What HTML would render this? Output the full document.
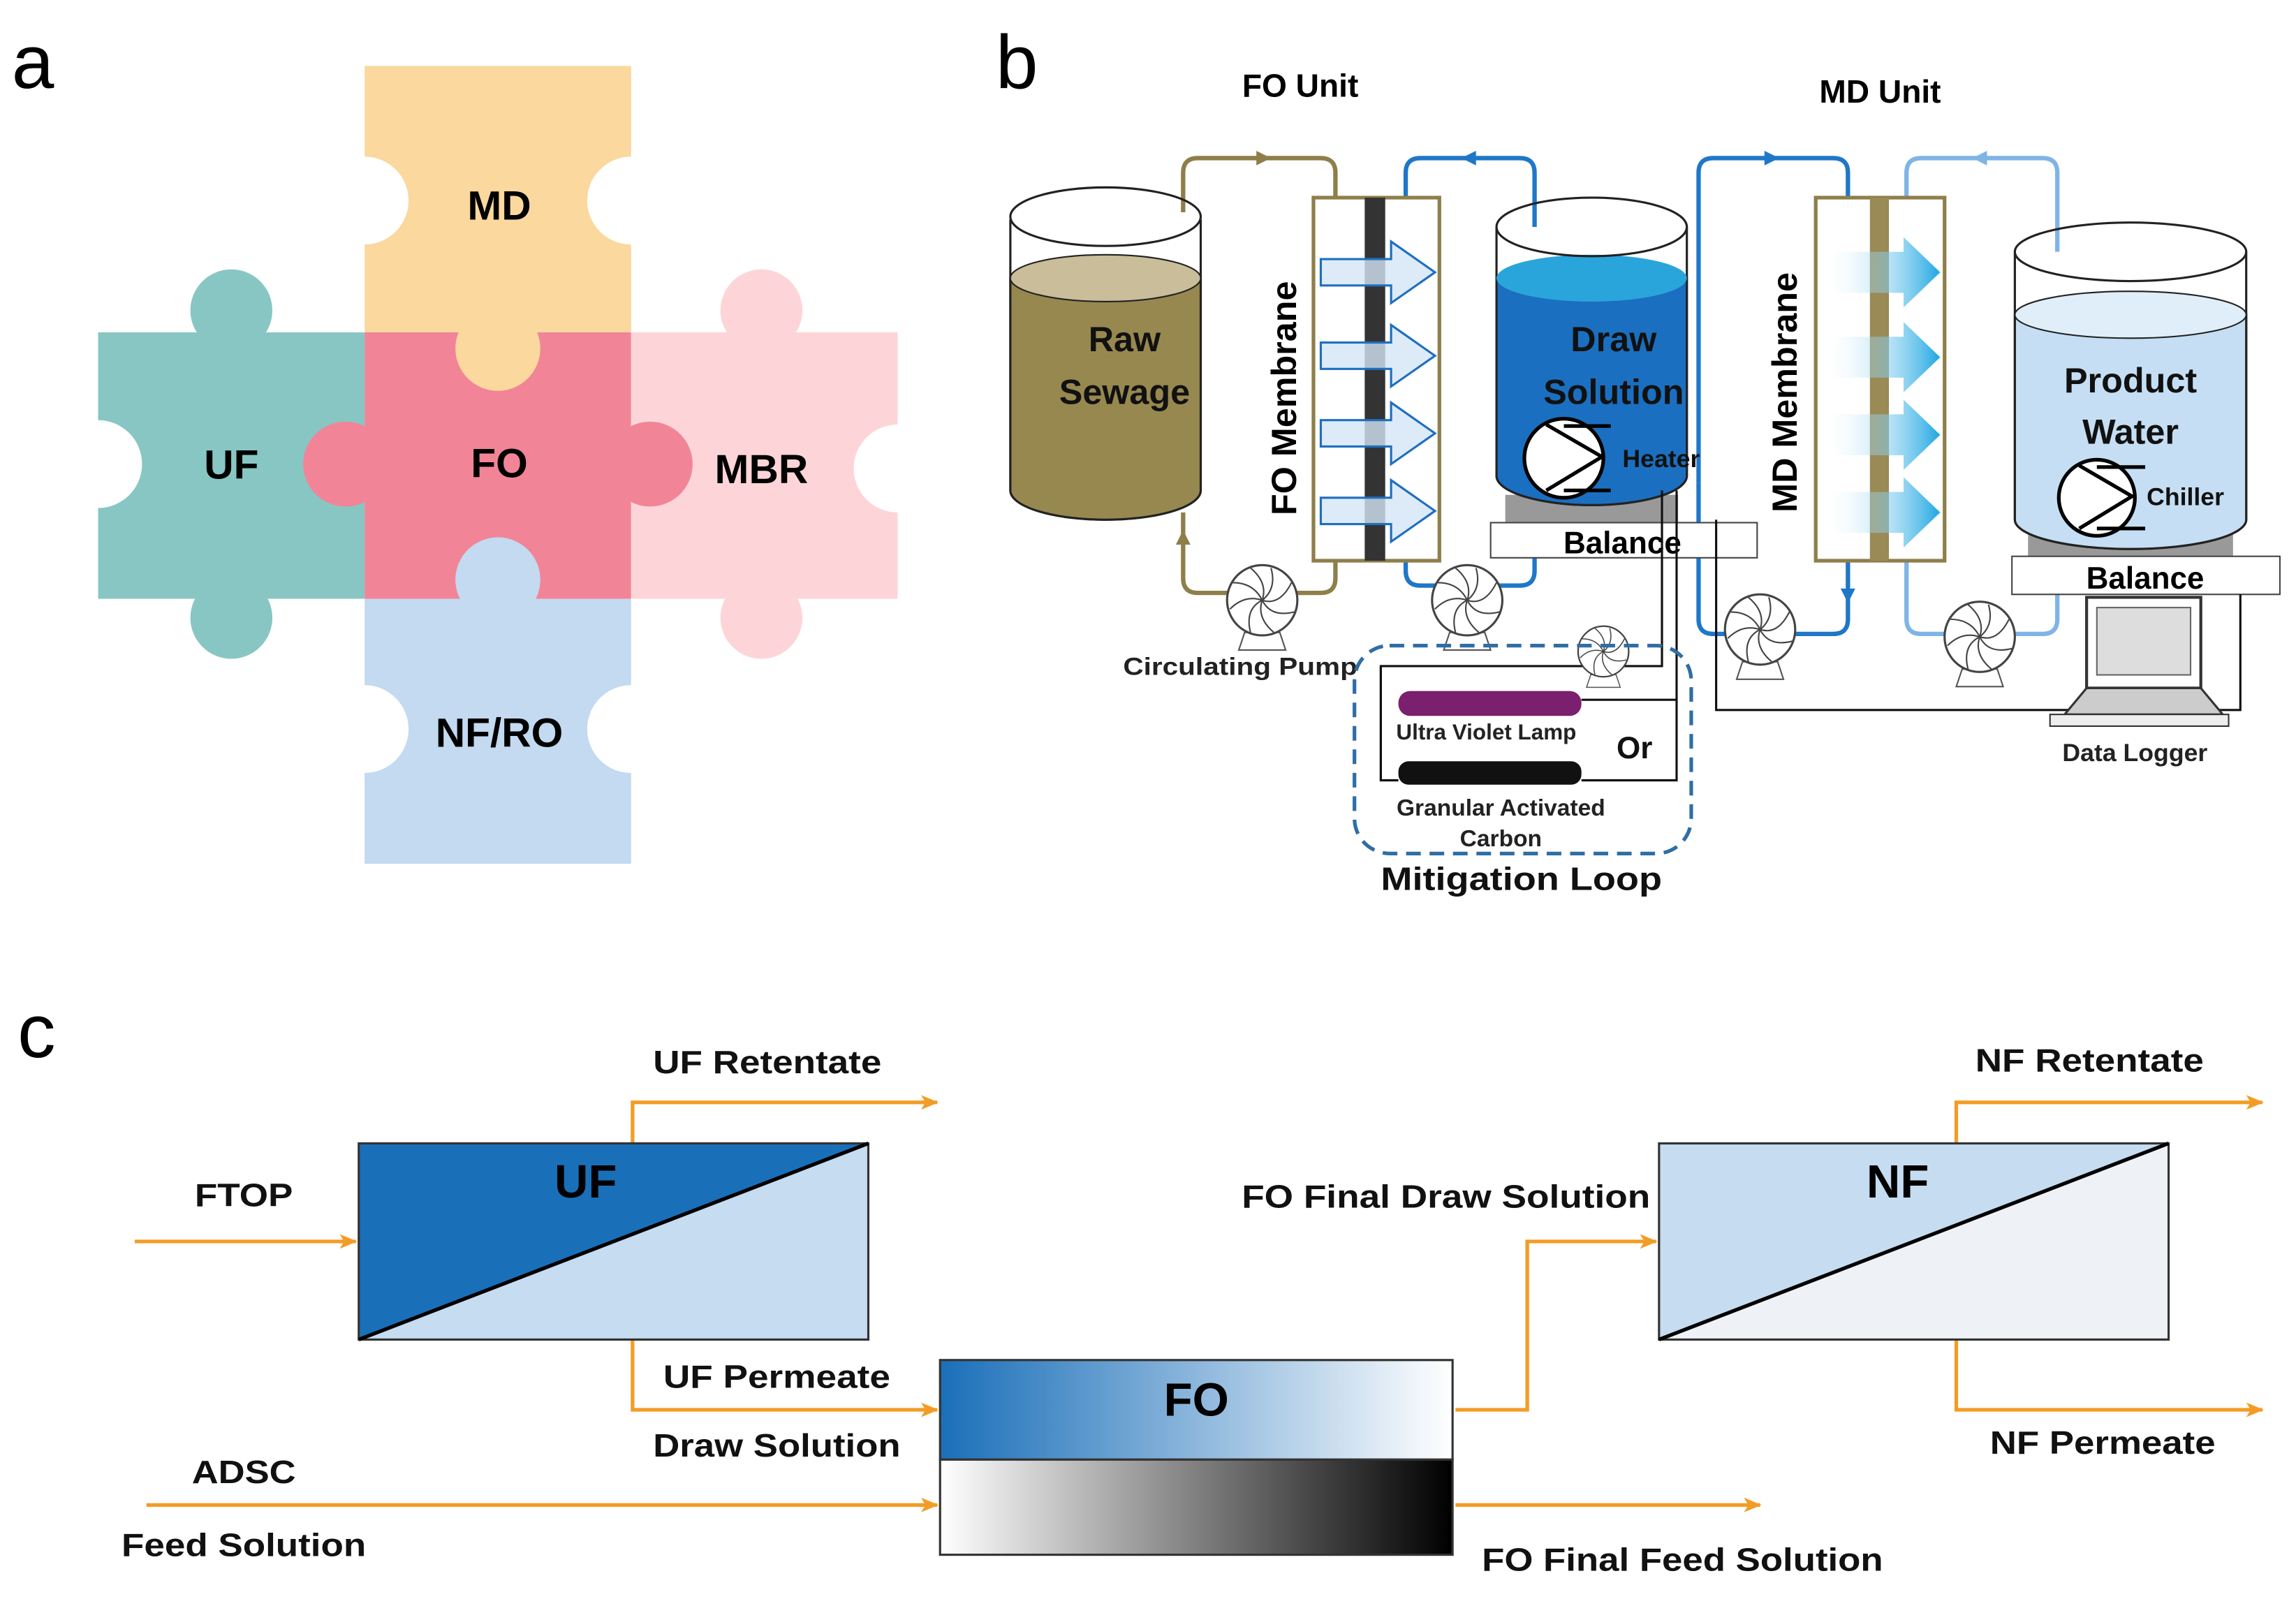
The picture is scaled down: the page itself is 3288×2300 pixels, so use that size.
<!DOCTYPE html>
<html><head><meta charset="utf-8"><style>html,body{margin:0;padding:0;background:#fff}svg{display:block}text{font-family:"Liberation Sans",sans-serif;font-weight:bold}</style></head>
<body>
<svg width="3288" height="2300" viewBox="0 0 1568 1097" preserveAspectRatio="none" xmlns="http://www.w3.org/2000/svg">
<defs>
<marker id="ao" markerWidth="12" markerHeight="10" refX="11" refY="5" orient="auto" markerUnits="userSpaceOnUse"><path d="M0,0 L12,5 L0,10 L3,5z" fill="#f39c25"/></marker>
<linearGradient id="gfo" x1="0" x2="1"><stop offset="0" stop-color="#1a6fb9"/><stop offset="1" stop-color="#fff"/></linearGradient>
<linearGradient id="gff" x1="0" x2="1"><stop offset="0" stop-color="#fff"/><stop offset="1" stop-color="#000"/></linearGradient>
<linearGradient id="gmd" x1="0" x2="1"><stop offset="0" stop-color="#fff" stop-opacity="0"/><stop offset="1" stop-color="#1fa7e2"/></linearGradient>
<g id="fan"><path d="M-12,22 L-16,34 L16,34 L12,22z" fill="#fff" stroke="#555"/><circle r="24" fill="#fff" stroke="#444" stroke-width="1.5"/>
<g fill="none" stroke="#444" stroke-width="1"><path d="M0,0 Q10,-8 6,-22"/><path d="M0,0 Q12,4 20,-12"/><path d="M0,0 Q6,12 22,8"/><path d="M0,0 Q-4,12 8,22"/><path d="M0,0 Q-12,6 -8,22"/><path d="M0,0 Q-12,-4 -22,6"/><path d="M0,0 Q-6,-12 -20,-12"/><path d="M0,0 Q4,-12 -8,-22"/></g></g>
</defs>

<!-- panel a -->
<text x="8" y="60" font-size="52" style="font-weight:normal">a</text>
<rect x="249" y="45" width="182" height="182" fill="#fad89e"/>
<rect x="67" y="227" width="182" height="182" fill="#88c6c3"/>
<rect x="249" y="227" width="182" height="182" fill="#f28497"/>
<rect x="431" y="227" width="182" height="182" fill="#fdd5d8"/>
<rect x="249" y="409" width="182" height="181" fill="#c3daf0"/>
<circle cx="158" cy="212" r="28" fill="#88c6c3"/><circle cx="158" cy="422" r="28" fill="#88c6c3"/>
<circle cx="520" cy="212" r="28" fill="#fdd5d8"/><circle cx="520" cy="422" r="28" fill="#fdd5d8"/>
<circle cx="340" cy="238" r="29" fill="#fad89e"/>
<circle cx="340" cy="396" r="29" fill="#c3daf0"/>
<circle cx="236" cy="317" r="29" fill="#f28497"/><circle cx="444" cy="317" r="29" fill="#f28497"/>
<circle cx="249" cy="137" r="30" fill="#fff"/><circle cx="431" cy="137" r="30" fill="#fff"/>
<circle cx="67" cy="317" r="30" fill="#fff"/><circle cx="613" cy="320" r="30" fill="#fff"/>
<circle cx="249" cy="498" r="30" fill="#fff"/><circle cx="431" cy="498" r="30" fill="#fff"/>
<g font-size="28" text-anchor="middle"><text x="341" y="150">MD</text><text x="158" y="327">UF</text><text x="341" y="326">FO</text><text x="520" y="330">MBR</text><text x="341" y="510">NF/RO</text></g>

<!-- panel b -->
<text x="680" y="60" font-size="52" style="font-weight:normal">b</text>
<text x="888" y="66" font-size="22" text-anchor="middle">FO Unit</text>
<text x="1284" y="70" font-size="22" text-anchor="middle">MD Unit</text>
<g fill="none" stroke-width="3">
<path d="M808,145 V118 Q808,108 818,108 H902 Q912,108 912,118 V135" stroke="#8e7f4a"/>
<path d="M912,383 V395 Q912,405 902,405 H818 Q808,405 808,395 V350" stroke="#8e7f4a"/>
<path d="M960,135 V118 Q960,108 970,108 H1038 Q1048,108 1048,118 V180" stroke="#1f77c8"/>
<path d="M960,383 V390 Q960,400 970,400 H1038 Q1048,400 1048,390 V357" stroke="#1f77c8"/>
<path d="M1160,330 V118 Q1160,108 1170,108 H1252 Q1262,108 1262,118 V135" stroke="#1f77c8"/>
<path d="M1262,383 V423 Q1262,433 1252,433 H1170 Q1160,433 1160,423 V330" stroke="#1f77c8"/>
<path d="M1302,135 V118 Q1302,108 1312,108 H1395 Q1405,108 1405,118 V210" stroke="#7fb4e6"/>
<path d="M1302,383 V423 Q1302,433 1312,433 H1395 Q1405,433 1405,423 V406" stroke="#7fb4e6"/>
</g>
<g><path d="M858,103 L868,108 L858,113z" fill="#8e7f4a"/><path d="M803,372 L808,362 L813,372z" fill="#8e7f4a"/>
<path d="M1008,103 L998,108 L1008,113z" fill="#1f77c8"/><path d="M1043,372 L1048,362 L1053,372z" fill="#1f77c8"/>
<path d="M1205,103 L1215,108 L1205,113z" fill="#1f77c8"/><path d="M1257,402 L1262,412 L1267,402z" fill="#1f77c8"/>
<path d="M1357,103 L1347,108 L1357,113z" fill="#7fb4e6"/><path d="M1400,397 L1405,387 L1410,397z" fill="#7fb4e6"/></g>
<path d="M690,150 V335 A65,20 0 0 0 820,335 V150" fill="#fff" stroke="#222" stroke-width="1.5"/>
<path d="M690,190 V335 A65,20 0 0 0 820,335 V190z" fill="#978850" stroke="#222" stroke-width="1.5"/>
<ellipse cx="755" cy="190" rx="65" ry="16" fill="#c9bd9a" stroke="#222"/>
<ellipse cx="755" cy="148" rx="65" ry="20" fill="none" stroke="#222" stroke-width="1.5"/>
<text x="768" y="240" font-size="24" text-anchor="middle" fill="#111">Raw</text><text x="768" y="276" font-size="24" text-anchor="middle" fill="#111">Sewage</text>
<rect x="897" y="135" width="86" height="248" fill="#fff" stroke="#8e7f4a" stroke-width="2.5"/>
<rect x="932" y="135" width="14" height="248" fill="#333"/>
<g fill="#d4e6f8" fill-opacity="0.8" stroke="#1f6fbf" stroke-width="1.5">
<path d="M902,177 H950 V165 L980,186 L950,207 V195 H902z"/><path d="M902,234 H950 V222 L980,243 L950,264 V252 H902z"/><path d="M902,287 H950 V275 L980,296 L950,317 V305 H902z"/><path d="M902,340 H950 V328 L980,349 L950,370 V358 H902z"/></g>
<text transform="translate(885,272) rotate(-90)" font-size="24" text-anchor="middle">FO Membrane</text>
<rect x="1028" y="338" width="118" height="20" fill="#999"/>
<path d="M1022,155 V325 A65,20 0 0 0 1152,325 V155" fill="#fff" stroke="#222" stroke-width="1.5"/>
<path d="M1022,190 V325 A65,20 0 0 0 1152,325 V190z" fill="#1b6fc0" stroke="#222" stroke-width="1.5"/>
<ellipse cx="1087" cy="190" rx="65" ry="16" fill="#2aa5dc"/>
<ellipse cx="1087" cy="155" rx="65" ry="20" fill="none" stroke="#222" stroke-width="1.5"/>
<text x="1102" y="240" font-size="24" text-anchor="middle" fill="#111">Draw</text><text x="1102" y="276" font-size="24" text-anchor="middle" fill="#111">Solution</text>
<circle cx="1068" cy="313" r="27" fill="#fff" stroke="#000" stroke-width="2.5"/>
<path d="M1056,290 L1094,312 L1056,335 M1068,291 H1100 M1068,335 H1100" fill="none" stroke="#000" stroke-width="2.5"/>
<text x="1108" y="319" font-size="17" fill="#111">Heater</text>
<rect x="1018" y="357" width="182" height="24" fill="#fff" stroke="#444"/>
<text x="1108" y="378" font-size="21" text-anchor="middle">Balance</text>
<rect x="1240" y="135" width="88" height="248" fill="#fff" stroke="#8e7f4a" stroke-width="2.5"/>
<rect x="1277" y="135" width="13" height="248" fill="#9a8a55"/>
<g fill="url(#gmd)"><path d="M1245,172 H1300 V162 L1325,186 L1300,210 V200 H1245z"/><path d="M1245,230 H1300 V220 L1325,244 L1300,268 V258 H1245z"/><path d="M1245,283 H1300 V273 L1325,297 L1300,321 V311 H1245z"/><path d="M1245,336 H1300 V326 L1325,350 L1300,374 V364 H1245z"/></g>
<text transform="translate(1227,268) rotate(-90)" font-size="24" text-anchor="middle">MD Membrane</text>
<rect x="1385" y="364" width="140" height="17" fill="#999"/>
<path d="M1376,172 V355 A79,20 0 0 0 1534,355 V172" fill="#fff" stroke="#222" stroke-width="1.5"/>
<path d="M1376,215 V355 A79,20 0 0 0 1534,355 V215z" fill="#c5def3" stroke="#222" stroke-width="1.5"/>
<ellipse cx="1455" cy="215" rx="79" ry="16" fill="#e0eef9" stroke="#222"/>
<ellipse cx="1455" cy="172" rx="79" ry="20" fill="none" stroke="#222" stroke-width="1.5"/>
<text x="1455" y="268" font-size="24" text-anchor="middle" fill="#111">Product</text><text x="1455" y="303" font-size="24" text-anchor="middle" fill="#111">Water</text>
<circle cx="1432" cy="340" r="26" fill="#fff" stroke="#000" stroke-width="2.5"/>
<path d="M1420,318 L1456,339 L1420,361 M1432,319 H1465 M1432,361 H1465" fill="none" stroke="#000" stroke-width="2.5"/>
<text x="1466" y="345" font-size="17" fill="#111">Chiller</text>
<rect x="1374" y="380" width="183" height="26" fill="#fff" stroke="#444"/>
<text x="1465" y="402" font-size="21" text-anchor="middle">Balance</text>
<g fill="none" stroke="#111" stroke-width="1.5">
<path d="M1135,335 V455 H943 V533 H955"/><path d="M1080,478 H1145 V533 H1080"/>
<path d="M1145,335 V478"/><path d="M1172,355 V485 H1530 V406"/></g>
<use href="#fan" x="862" y="410"/><use href="#fan" x="1002" y="410"/><use href="#fan" x="1202" y="430"/><use href="#fan" x="1352" y="435"/>
<g transform="translate(1095,445) scale(0.72)"><use href="#fan"/></g>
<text x="767" y="461" font-size="17" fill="#222" textLength="160" lengthAdjust="spacingAndGlyphs">Circulating Pump</text>
<rect x="1425" y="408" width="78" height="62" fill="#fff" stroke="#333" stroke-width="2"/><rect x="1432" y="415" width="64" height="46" fill="#ddd" stroke="#666"/>
<path d="M1410,488 L1425,470 H1503 L1518,488z" fill="#ccc" stroke="#333" stroke-width="1.5"/><rect x="1400" y="488" width="122" height="8" fill="#eee" stroke="#333"/>
<text x="1458" y="520" font-size="17" text-anchor="middle" fill="#222">Data Logger</text>
<rect x="925" y="441" width="230" height="142" rx="24" fill="none" stroke="#2f6ea5" stroke-width="2.5" stroke-dasharray="10,6"/>
<path d="M943,455 V533" stroke="#111" stroke-width="1.5"/>
<rect x="955" y="472" width="125" height="17" rx="8" fill="#7b1f6f"/>
<rect x="955" y="520" width="125" height="16" rx="7" fill="#111"/>
<text x="1015" y="505" font-size="15" text-anchor="middle" fill="#222">Ultra Violet Lamp</text>
<text x="1104" y="518" font-size="21" fill="#111">Or</text>
<text x="1025" y="557" font-size="16" text-anchor="middle" fill="#222">Granular Activated</text>
<text x="1025" y="578" font-size="16" text-anchor="middle" fill="#222">Carbon</text>
<text x="943" y="608" font-size="22" fill="#111" textLength="192" lengthAdjust="spacingAndGlyphs">Mitigation Loop</text>

<!-- panel c -->
<text x="12" y="722" font-size="52" style="font-weight:normal">c</text>
<g stroke="#f39c25" stroke-width="2.5" fill="none" marker-end="url(#ao)">
<path d="M92,848 H243"/><path d="M432,781 V753 H640"/><path d="M432,915 V963 H640"/><path d="M100,1028 H640"/>
<path d="M994,963 H1043 V848 H1131"/><path d="M1336,781 V753 H1545"/><path d="M1336,915 V963 H1545"/><path d="M994,1028 H1202"/></g>
<polygon points="245,781 593,781 245,915" fill="#1a6fb9"/><polygon points="593,781 593,915 245,915" fill="#c5dcf1"/>
<rect x="245" y="781" width="348" height="134" fill="none" stroke="#333" stroke-width="1.5"/><path d="M245,915 L593,781" stroke="#000" stroke-width="2.5"/>
<text x="400" y="818" font-size="32" text-anchor="middle">UF</text>
<polygon points="1133,781 1481,781 1133,915" fill="#c5dcf1"/><polygon points="1481,781 1481,915 1133,915" fill="#eef2f7"/>
<rect x="1133" y="781" width="348" height="134" fill="none" stroke="#333" stroke-width="1.5"/><path d="M1133,915 L1481,781" stroke="#000" stroke-width="2.5"/>
<text x="1296" y="818" font-size="32" text-anchor="middle">NF</text>
<rect x="642" y="929" width="350" height="68" fill="url(#gfo)" stroke="#333" stroke-width="1.5"/>
<rect x="642" y="997" width="350" height="65" fill="url(#gff)" stroke="#333" stroke-width="1.5"/>
<text x="817" y="967" font-size="32" text-anchor="middle">FO</text>
<g font-size="22" fill="#111" lengthAdjust="spacingAndGlyphs">
<text x="446" y="733" textLength="156" lengthAdjust="spacingAndGlyphs">UF Retentate</text>
<text x="133" y="824" textLength="67" lengthAdjust="spacingAndGlyphs">FTOP</text>
<text x="453" y="948" textLength="155" lengthAdjust="spacingAndGlyphs">UF Permeate</text>
<text x="446" y="995" textLength="169" lengthAdjust="spacingAndGlyphs">Draw Solution</text>
<text x="131" y="1013" textLength="71" lengthAdjust="spacingAndGlyphs">ADSC</text>
<text x="83" y="1063" textLength="167" lengthAdjust="spacingAndGlyphs">Feed Solution</text>
<text x="848" y="825" textLength="279" lengthAdjust="spacingAndGlyphs">FO Final Draw Solution</text>
<text x="1349" y="732" textLength="156" lengthAdjust="spacingAndGlyphs">NF Retentate</text>
<text x="1359" y="993" textLength="154" lengthAdjust="spacingAndGlyphs">NF Permeate</text>
<text x="1012" y="1073" textLength="274" lengthAdjust="spacingAndGlyphs">FO Final Feed Solution</text></g>
</svg>
</body></html>
